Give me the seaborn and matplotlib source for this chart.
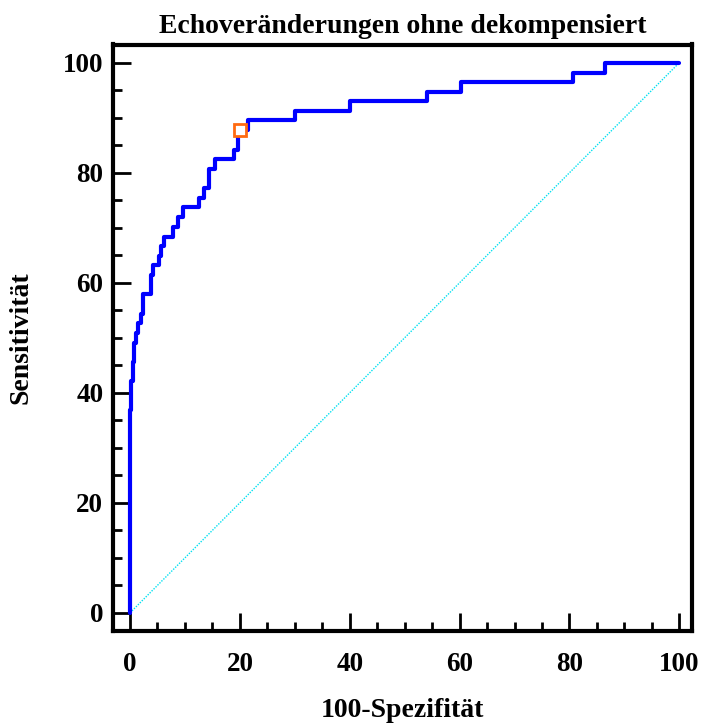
import matplotlib
matplotlib.use("Agg")
import matplotlib.pyplot as plt
import seaborn as sns
import pandas as pd
from matplotlib.ticker import MultipleLocator

# ROC curve operating points (100-Specificity, Sensitivity)
fpr = [0, 0, 0.18, 0.49, 0.73, 1.1, 1.5, 2.0, 2.4, 3.8, 4.1, 5.2, 5.6, 6.1,
       7.8, 8.8, 9.6, 12.6, 13.5, 14.4, 15.5, 19.0, 19.6, 21.5, 30.0, 40.0,
       54.0, 60.3, 80.6, 86.4, 100]
tpr = [0, 36.8, 42.1, 45.6, 49.1, 50.9, 52.6, 54.4, 57.9, 61.4, 63.2, 64.9,
       66.7, 68.4, 70.2, 71.9, 73.7, 75.4, 77.2, 80.7, 82.5, 84.2, 87.7, 89.5,
       91.2, 93.0, 94.7, 96.5, 98.2, 100, 100]
diag_x = [0, 100]
diag_y = [0, 100]
cut_x = [20.0]
cut_y = [87.7]

title = "Echoveränderungen ohne dekompensiert"
xlabel = "100-Spezifität"
ylabel = "Sensitivität"
ticks = [0, 20, 40, 60, 80, 100]

sns.set_style("white")
plt.rcParams['font.family'] = ['Liberation Serif', 'DejaVu Serif']
plt.rcParams['font.weight'] = 'bold'
for k in ['text.color', 'axes.labelcolor', 'xtick.color', 'ytick.color']:
    plt.rcParams[k] = 'black'

fig = plt.figure(figsize=(7.03, 7.26), dpi=100)
ax = fig.add_axes([113/703, 1-631/726, (692-113)/703, (631-44.5)/726])

df = pd.DataFrame({"x": fpr, "y": tpr})
sns.lineplot(data=pd.DataFrame({"x": diag_x, "y": diag_y}), x="x", y="y", ax=ax,
             color="#00e0f0", linewidth=1.0, linestyle=(0, (1, 1)),
             estimator=None, sort=False)
sns.lineplot(data=df, x="x", y="y", ax=ax, color="#0000ff", linewidth=3.0,
             drawstyle="steps-post", estimator=None, sort=False)
ax.plot(cut_x, cut_y, marker="s", markersize=9, markerfacecolor="white",
        markeredgecolor="#ff6a10", markeredgewidth=2.0, linestyle="none")

ax.set_xlim(-3.1, 102.3)
ax.set_ylim(-3.3, 103.3)
ax.set_xticks(ticks)
ax.set_yticks(ticks)
ax.xaxis.set_minor_locator(MultipleLocator(5))
ax.yaxis.set_minor_locator(MultipleLocator(5))
ax.tick_params(which="both", direction="in", width=2.0, color="black",
               labelcolor="black")
ax.tick_params(which="major", length=13, labelsize=19.5)
ax.tick_params(which="minor", length=6.5)
ax.tick_params(axis="x", which="major", pad=15)
ax.tick_params(axis="y", which="major", pad=7)
ax.tick_params(which="both", top=False, right=False, bottom=True, left=True)
for lab in ax.get_xticklabels() + ax.get_yticklabels():
    lab.set_fontweight("bold")

for s in ax.spines.values():
    s.set_linewidth(3.0)
    s.set_color("black")

ax.set_title(title, fontsize=20, fontweight="bold", pad=8, color="black")
ax.set_xlabel(xlabel, fontsize=20, fontweight="bold", labelpad=15, color="black")
ax.set_ylabel(ylabel, fontsize=20, fontweight="bold", labelpad=21, color="black")

fig.savefig("out.png", dpi=100)
